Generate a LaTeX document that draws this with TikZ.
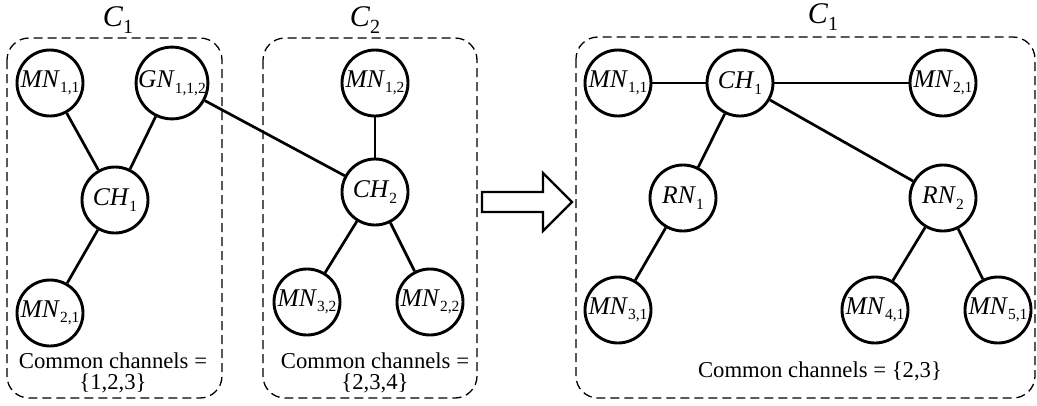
\documentclass[tikz,border=0pt]{standalone}
\usepackage{fontspec}
\setmainfont{Liberation Serif}
% italic node name with a small upright index
\newcommand\nlab[2]{\textit{#1}\raisebox{-0.22em}{\fontsize{15.5}{15.5}\selectfont #2}}
\newcommand\clab[2]{\textit{#1}\raisebox{-0.22em}{\fontsize{20}{20}\selectfont #2}}
\tikzset{
  nd/.style={circle, draw, line width=2.9pt, minimum size=66pt, inner sep=0pt,
    font=\fontsize{25.5}{25.5}\selectfont},
  link/.style={line width=2.7pt},
  zone/.style={draw, dash pattern=on 9pt off 5pt, line width=1.3pt, rounded corners=22pt},
  caption/.style={font=\fontsize{22.7}{21.5}\selectfont, align=center, inner sep=0pt},
  title/.style={font=\fontsize{30}{30}\selectfont, inner sep=0pt}
}
\begin{document}
\begin{tikzpicture}[x=1pt, y=-1pt]
  \useasboundingbox (0,0) rectangle (1037,405);

  % cluster outlines
  \draw[zone] (7,38) rectangle (222,398);
  \draw[zone] (263,38) rectangle (477,398);
  \draw[zone] (576,37) rectangle (1035,398);

  % cluster names
  \node[title] (tA) at (118,20) {\clab{C}{1}};
  \node[title] (tB) at (365,20) {\clab{C}{2}};
  \node[title] (tC) at (823,17) {\clab{C}{1}};

  % first cluster
  \node[nd] (a11) at (50,83) {\nlab{MN}{1,1}};
  \node[nd] (g112) at (172,83) {\nlab{GN}{1,1,2}};
  \node[nd] (ch1) at (115,200) {\nlab{CH}{1}};
  \node[nd] (a21) at (50,313) {\nlab{MN}{2,1}};
  \node[caption] (capA) at (113,373) {Common channels =\\\{1,2,3\}};

  % second cluster
  \node[nd] (b12) at (375,83) {\nlab{MN}{1,2}};
  \node[nd] (ch2) at (375,192) {\nlab{CH}{2}};
  \node[nd] (b32) at (307,302) {\nlab{MN}{3,2}};
  \node[nd] (b22) at (430,302) {\nlab{MN}{2,2}};
  \node[caption] (capB) at (375,373) {Common channels =\\\{2,3,4\}};

  \draw[link] (a11) -- (ch1);
  \draw[link] (g112) -- (ch1);
  \draw[link] (ch1) -- (a21);
  \draw[link] (g112) -- (ch2);
  \draw[link] (b12) -- (ch2);
  \draw[link] (ch2) -- (b32);
  \draw[link] (ch2) -- (b22);

  % merge arrow
  \draw[line width=2.4pt, line join=miter]
    (482,192) -- (543,192) -- (543,173) -- (572,202) -- (543,231)
    -- (543,212) -- (482,212) -- cycle;

  % merged cluster
  \node[nd] (m11) at (618,83) {\nlab{MN}{1,1}};
  \node[nd] (mch) at (740,83) {\nlab{CH}{1}};
  \node[nd] (m21) at (943,83) {\nlab{MN}{2,1}};
  \node[nd] (r1) at (683,198) {\nlab{RN}{1}};
  \node[nd] (r2) at (943,198) {\nlab{RN}{2}};
  \node[nd] (m31) at (618,310) {\nlab{MN}{3,1}};
  \node[nd] (m41) at (875,310) {\nlab{MN}{4,1}};
  \node[nd] (m51) at (998,310) {\nlab{MN}{5,1}};
  \node[caption] (capC) at (820,371) {Common channels = \{2,3\}};

  \draw[link] (m11) -- (mch);
  \draw[link] (mch) -- (m21);
  \draw[link] (mch) -- (r1);
  \draw[link] (mch) -- (r2);
  \draw[link] (r1) -- (m31);
  \draw[link] (r2) -- (m41);
  \draw[link] (r2) -- (m51);
\end{tikzpicture}
\end{document}
